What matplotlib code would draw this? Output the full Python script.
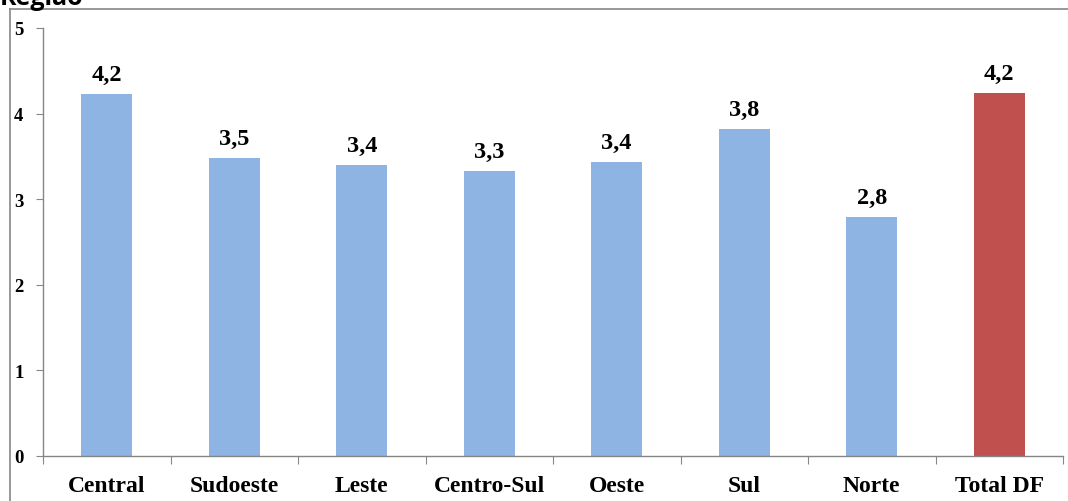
import matplotlib.pyplot as plt
from matplotlib.lines import Line2D

# media por regiao
regioes = ['Central', 'Sudoeste', 'Leste', 'Centro-Sul', 'Oeste', 'Sul', 'Norte', 'Total DF']
valores = [4.23, 3.48, 3.40, 3.33, 3.43, 3.82, 2.79, 4.24]
rotulos = ['4,2', '3,5', '3,4', '3,3', '3,4', '3,8', '2,8', '4,2']
cores = ['#8EB4E3'] * 7 + ['#C0504D']

serif = 'Liberation Serif'
grey = '#868686'

fig = plt.figure(figsize=(10.68, 5.02), dpi=100)
ax = fig.add_axes([43 / 1068, 45 / 502, 1020 / 1068, 428 / 502])

x = range(len(regioes))
ax.bar(x, valores, width=0.4, color=cores)

for i, (v, r) in enumerate(zip(valores, rotulos)):
    ax.text(i, v + 0.11, r, ha='center', va='bottom', fontsize=17.5,
            fontweight='bold', family=serif)

ax.set_xlim(-0.5, len(regioes) - 0.5)
ax.set_ylim(0, 5)
ax.set_yticks(range(6))
ax.set_yticklabels([str(i) for i in range(6)], fontsize=13.5, fontweight='bold', family=serif)

# ticks do eixo x nas divisas entre categorias
ax.set_xticks([i - 0.5 for i in range(len(regioes) + 1)])
ax.set_xticklabels([])
ax.set_xticks(list(x), minor=True)
ax.set_xticklabels(regioes, minor=True, fontsize=17, fontweight='bold', family=serif)
ax.tick_params(axis='x', which='minor', length=0, pad=14)
ax.tick_params(axis='x', which='major', length=6, color=grey, direction='out')
ax.tick_params(axis='y', length=5, color=grey, direction='out', pad=9)

for s in ['top', 'right']:
    ax.spines[s].set_visible(False)
for s in ['left', 'bottom']:
    ax.spines[s].set_color(grey)
    ax.spines[s].set_linewidth(1)

# moldura do grafico
fig.add_artist(Line2D([10 / 1068, 1], [1 - 10 / 502, 1 - 10 / 502], color=grey, lw=1.2))
fig.add_artist(Line2D([10 / 1068, 10 / 1068], [0, 1 - 10 / 502], color=grey, lw=1.2))

fig.text(0.0, 1 - 5 / 502, 'Região', fontsize=18, fontweight='bold', family='Open Sans',
         ha='left', va='baseline')

fig.savefig('out.png', dpi=100)
